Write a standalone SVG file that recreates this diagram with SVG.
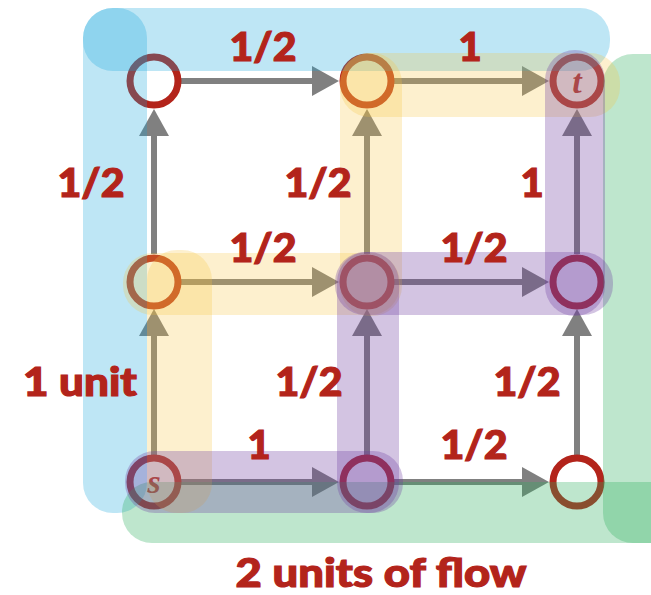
<svg xmlns="http://www.w3.org/2000/svg" width="651" height="595" viewBox="0 0 651 595">
<style>
.edge{stroke:#808080;stroke-width:6;fill:none;marker-end:url(#arr)}
.node{fill:#fff;stroke:#b3241b;stroke-width:7}
.nl{font-family:"Liberation Serif",serif;font-style:italic;font-weight:bold;font-size:34px;fill:#b3241b;text-anchor:middle}
.lbl{font-family:Lato,"Open Sans",sans-serif;font-weight:900;font-size:40px;fill:#b3241b;stroke:#b3241b;stroke-width:1.2;text-anchor:middle}
.blue{fill:rgb(23,166,219);opacity:0.28}
.green{fill:rgb(45,174,94);opacity:0.31}
.yellow{fill:rgb(247,194,60);opacity:0.25}
.purple{fill:rgb(110,60,160);opacity:0.3}
</style>
<defs>
<marker id="arr" viewBox="0 0 27 30" refX="12" refY="15" markerWidth="27" markerHeight="30" markerUnits="userSpaceOnUse" orient="auto">
<path d="M0,0 L27,15 L0,30 Z" fill="#808080"/>
</marker>
</defs>
<rect width="651" height="595" fill="#fff"/>
<g id="connectors">
<line class="edge" x1="181" y1="81" x2="324" y2="81"/>
<line class="edge" x1="394" y1="81" x2="534" y2="81"/>
<line class="edge" x1="181" y1="282" x2="324" y2="282"/>
<line class="edge" x1="394" y1="282" x2="534" y2="282"/>
<line class="edge" x1="181" y1="482" x2="324" y2="482"/>
<line class="edge" x1="394" y1="482" x2="534" y2="482"/>
<line class="edge" x1="154" y1="254" x2="154" y2="124"/>
<line class="edge" x1="154" y1="455" x2="154" y2="324"/>
<line class="edge" x1="367" y1="254" x2="367" y2="124"/>
<line class="edge" x1="367" y1="455" x2="367" y2="324"/>
<line class="edge" x1="577" y1="254" x2="577" y2="124"/>
<line class="edge" x1="577" y1="455" x2="577" y2="324"/>
</g>
<g id="node-tl"><circle class="node" cx="154" cy="81" r="24"/></g>
<g id="node-tm"><circle class="node" cx="367" cy="81" r="24"/></g>
<g id="node-t"><circle class="node" cx="577" cy="81" r="24"/><text class="nl" x="577" y="93">t</text></g>
<g id="node-ml"><circle class="node" cx="154" cy="282" r="24"/></g>
<g id="node-mm"><circle class="node" cx="367" cy="282" r="24"/></g>
<g id="node-mr"><circle class="node" cx="577" cy="282" r="24"/></g>
<g id="node-s"><circle class="node" cx="154" cy="482" r="24"/><text class="nl" x="154" y="493">s</text></g>
<g id="node-bm"><circle class="node" cx="367" cy="482" r="24"/></g>
<g id="node-br"><circle class="node" cx="577" cy="482" r="24"/></g>
<g id="highlights">
<rect class="blue" x="83" y="8" width="527" height="63" rx="30"/>
<rect class="blue" x="83" y="8" width="64" height="505" rx="30"/>
<rect class="green" x="603" y="54" width="80" height="489" rx="30"/>
<rect class="green" x="122" y="482" width="560" height="61" rx="30"/>
<rect class="yellow" x="147" y="250" width="65" height="263" rx="30"/>
<rect class="yellow" x="123" y="253" width="277" height="62" rx="30"/>
<rect class="yellow" x="340" y="53" width="62" height="263" rx="30"/>
<rect class="yellow" x="340" y="53" width="280" height="64" rx="30"/>
<rect class="purple" x="125" y="451" width="278" height="62" rx="30"/>
<rect class="purple" x="337" y="252" width="62" height="261" rx="30"/>
<rect class="purple" x="335" y="252" width="278" height="63" rx="30"/>
<rect class="purple" x="545" y="50" width="60" height="266" rx="30"/>
</g>
<g id="labels">
<text class="lbl" x="263" y="61" textLength="67" lengthAdjust="spacingAndGlyphs">1/2</text>
<text class="lbl" x="470" y="61">1</text>
<text class="lbl" x="91" y="197" textLength="67" lengthAdjust="spacingAndGlyphs">1/2</text>
<text class="lbl" x="318" y="197" textLength="67" lengthAdjust="spacingAndGlyphs">1/2</text>
<text class="lbl" x="532" y="197">1</text>
<text class="lbl" x="263" y="262" textLength="67" lengthAdjust="spacingAndGlyphs">1/2</text>
<text class="lbl" x="474" y="262" textLength="67" lengthAdjust="spacingAndGlyphs">1/2</text>
<text class="lbl" x="80" y="396" textLength="114" lengthAdjust="spacingAndGlyphs">1 unit</text>
<text class="lbl" x="309" y="396" textLength="67" lengthAdjust="spacingAndGlyphs">1/2</text>
<text class="lbl" x="527" y="396" textLength="67" lengthAdjust="spacingAndGlyphs">1/2</text>
<text class="lbl" x="259" y="459">1</text>
<text class="lbl" x="474" y="459" textLength="67" lengthAdjust="spacingAndGlyphs">1/2</text>
<text class="lbl" x="381" y="587" font-size="41" textLength="291" lengthAdjust="spacingAndGlyphs">2 units of flow</text>
</g>
</svg>
